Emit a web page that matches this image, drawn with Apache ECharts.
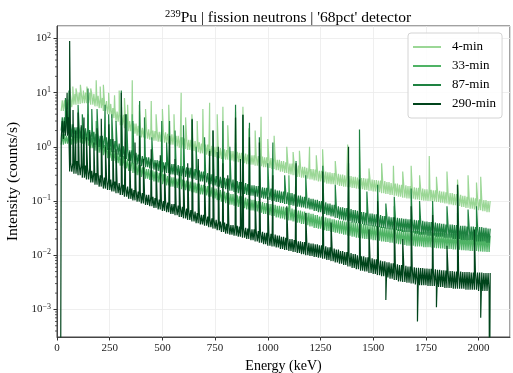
<!DOCTYPE html>
<html><head><meta charset="utf-8">
<script src="https://cdn.jsdelivr.net/npm/echarts@6/dist/echarts.min.js"></script>
<style>html,body{margin:0;padding:0;background:#fff}#c{width:513px;height:373px}</style>
</head><body><div id="c"></div>
<script>
// ---- data ----
const seriesNames = ['4-min', '33-min', '87-min', '290-min'];
const xTickLabels = [0, 250, 500, 750, 1000, 1250, 1500, 1750, 2000];
const gridStartKeV = 20, gridStepKeV = 20;   // lower / upper edges of each noisy band, read every 20 keV

const low4 = [4.6,5.0,5.4,6.0,6.2,6.4,6.4,6.0,5.6,5.2,4.6,4.0,3.4,2.9,2.5,2.2,1.95,1.75,1.6,1.5,1.42,1.35,1.3,1.25,1.2,1.15,1.1,1.02,0.96,0.92,0.88,0.84,0.8,0.76,0.72,0.68,0.65,0.62,0.6,0.58,0.56,0.54,0.52,0.5,0.48,0.47,0.45,0.44,0.42,0.41,0.39,0.37,0.35,0.33,0.31,0.3,0.28,0.27,0.26,0.25,0.24,0.23,0.22,0.21,0.205,0.2,0.19,0.185,0.18,0.175,0.17,0.165,0.16,0.155,0.15,0.145,0.14,0.135,0.13,0.125,0.12,0.115,0.112,0.11,0.107,0.104,0.102,0.1,0.098,0.096,0.093,0.09,0.087,0.084,0.081,0.078,0.075,0.072,0.07,0.068,0.065,0.062];
const high4 = [7.2,7.5,8.5,9.5,10,10,10,9.5,8.8,8.0,7.0,6.2,5.2,4.5,3.9,3.4,3.0,2.7,2.45,2.25,2.1,2.0,1.95,1.9,1.85,1.75,1.7,1.6,1.5,1.42,1.35,1.28,1.22,1.15,1.1,1.05,1.0,0.95,0.9,0.87,0.84,0.81,0.78,0.75,0.72,0.7,0.68,0.66,0.64,0.62,0.6,0.58,0.55,0.52,0.49,0.47,0.45,0.43,0.41,0.39,0.38,0.36,0.35,0.34,0.33,0.32,0.31,0.3,0.29,0.28,0.27,0.265,0.26,0.25,0.245,0.24,0.235,0.225,0.215,0.21,0.2,0.195,0.19,0.18,0.175,0.17,0.165,0.162,0.158,0.155,0.15,0.145,0.14,0.135,0.13,0.125,0.12,0.116,0.112,0.108,0.104,0.1];
const low33 = [1.1,1.15,1.1,1.15,1.2,1.15,1.05,0.95,0.85,0.78,0.7,0.62,0.55,0.5,0.45,0.4,0.36,0.33,0.3,0.28,0.26,0.245,0.23,0.22,0.205,0.195,0.185,0.175,0.165,0.158,0.152,0.145,0.14,0.133,0.127,0.12,0.112,0.104,0.097,0.091,0.086,0.082,0.078,0.074,0.07,0.067,0.064,0.061,0.058,0.055,0.053,0.05,0.048,0.046,0.044,0.042,0.04,0.038,0.036,0.034,0.032,0.031,0.029,0.028,0.027,0.026,0.025,0.024,0.023,0.022,0.021,0.0205,0.02,0.0195,0.019,0.0185,0.018,0.0175,0.017,0.0165,0.016,0.0155,0.015,0.015,0.0145,0.0145,0.014,0.014,0.0138,0.0135,0.0133,0.013,0.013,0.0128,0.0126,0.0124,0.0122,0.012,0.012,0.0118,0.0116,0.0115];
const high33 = [1.7,1.6,1.6,1.7,1.8,1.75,1.6,1.45,1.3,1.2,1.08,0.96,0.85,0.76,0.68,0.6,0.54,0.5,0.46,0.42,0.39,0.37,0.35,0.33,0.31,0.29,0.275,0.26,0.25,0.24,0.23,0.22,0.21,0.2,0.19,0.18,0.17,0.16,0.15,0.142,0.135,0.128,0.122,0.116,0.11,0.105,0.1,0.096,0.092,0.088,0.085,0.082,0.079,0.076,0.073,0.07,0.067,0.064,0.061,0.058,0.055,0.052,0.05,0.048,0.046,0.044,0.043,0.042,0.041,0.04,0.039,0.038,0.037,0.036,0.035,0.034,0.033,0.032,0.031,0.03,0.03,0.029,0.029,0.028,0.028,0.027,0.027,0.027,0.026,0.026,0.026,0.025,0.025,0.025,0.025,0.024,0.024,0.024,0.024,0.024,0.023,0.023];
const low87 = [2.0,1.8,1.5,1.45,1.45,1.4,1.3,1.2,1.1,1.0,0.95,0.88,0.8,0.72,0.65,0.6,0.55,0.5,0.47,0.44,0.42,0.4,0.38,0.36,0.34,0.33,0.31,0.3,0.29,0.28,0.27,0.26,0.245,0.23,0.22,0.205,0.195,0.185,0.175,0.165,0.155,0.148,0.14,0.135,0.13,0.125,0.12,0.115,0.11,0.105,0.1,0.096,0.092,0.088,0.085,0.082,0.079,0.076,0.073,0.07,0.066,0.062,0.058,0.055,0.052,0.049,0.046,0.044,0.042,0.04,0.039,0.038,0.036,0.035,0.034,0.033,0.032,0.031,0.03,0.029,0.028,0.027,0.027,0.026,0.025,0.024,0.024,0.023,0.023,0.022,0.022,0.021,0.021,0.02,0.02,0.019,0.019,0.019,0.018,0.018,0.018,0.017];
const high87 = [3.5,3.2,2.6,2.3,2.3,2.2,2.05,1.9,1.75,1.6,1.5,1.4,1.28,1.15,1.02,0.94,0.86,0.78,0.72,0.68,0.64,0.6,0.57,0.55,0.52,0.5,0.48,0.46,0.44,0.42,0.41,0.39,0.37,0.35,0.33,0.31,0.29,0.28,0.27,0.26,0.25,0.235,0.225,0.215,0.205,0.195,0.19,0.18,0.175,0.17,0.163,0.157,0.15,0.145,0.14,0.133,0.127,0.12,0.115,0.11,0.105,0.1,0.095,0.09,0.085,0.08,0.077,0.074,0.071,0.068,0.066,0.063,0.061,0.059,0.057,0.055,0.053,0.052,0.05,0.049,0.048,0.047,0.046,0.045,0.044,0.043,0.042,0.041,0.04,0.039,0.038,0.037,0.037,0.036,0.035,0.035,0.034,0.034,0.033,0.033,0.032,0.031];
const low290 = [1.4,1.6,0.35,0.32,0.3,0.27,0.25,0.22,0.2,0.185,0.17,0.16,0.15,0.14,0.13,0.12,0.11,0.103,0.097,0.09,0.085,0.08,0.075,0.07,0.066,0.062,0.058,0.055,0.051,0.048,0.045,0.042,0.039,0.037,0.035,0.033,0.031,0.029,0.027,0.025,0.024,0.023,0.022,0.021,0.02,0.019,0.018,0.017,0.016,0.015,0.0145,0.014,0.013,0.0125,0.012,0.0115,0.011,0.0105,0.01,0.0097,0.0093,0.009,0.0086,0.0082,0.0078,0.0074,0.007,0.0066,0.0062,0.0058,0.0055,0.0052,0.005,0.0047,0.0045,0.0043,0.0041,0.0039,0.0037,0.0035,0.0033,0.0032,0.0031,0.003,0.0029,0.0028,0.0028,0.0027,0.0027,0.0026,0.0026,0.0025,0.0025,0.0024,0.0024,0.0024,0.0023,0.0023,0.0023,0.0022,0.0022,0.0022];
const high290 = [3.0,3.5,0.5,0.55,0.5,0.45,0.4,0.36,0.33,0.3,0.27,0.25,0.23,0.215,0.2,0.185,0.17,0.16,0.15,0.14,0.13,0.12,0.113,0.106,0.1,0.094,0.088,0.083,0.078,0.073,0.068,0.064,0.06,0.056,0.052,0.048,0.045,0.042,0.04,0.038,0.036,0.035,0.034,0.032,0.031,0.03,0.028,0.027,0.026,0.025,0.024,0.023,0.022,0.021,0.02,0.019,0.018,0.0175,0.017,0.0165,0.016,0.0153,0.0147,0.014,0.0133,0.0127,0.012,0.0115,0.011,0.0105,0.01,0.0096,0.0092,0.0088,0.0084,0.008,0.0077,0.0074,0.0071,0.0068,0.0066,0.0064,0.0062,0.006,0.0059,0.0058,0.0057,0.0056,0.0055,0.0054,0.0053,0.0052,0.0051,0.005,0.005,0.0049,0.0049,0.0048,0.0048,0.0048,0.0047,0.0047];

// spikes / single-channel points [keV, counts/s]
const peaks4 = [[60,12],[75,13],[90,12],[111,14],[125,11],[142,13],[160,12],[186,17],[205,13],[220,14],[245,10],[273,9],[295,11],[320,8],[335,6],[357,17],[390,6],[420,5],[447,7],[470,4],[500,5],[530,6],[555,4],[589,10],[610,3.5],[640,4],[665,3],[692,5],[724,6.5],[760,4],[787,5.5],[810,2.5],[847,4.5],[882,5.5],[910,2.2],[940,2],[968,3.6],[1000,1.4],[1030,1.6],[1090,1.0],[1120,0.8],[1150,0.85],[1198,1.0],[1230,0.7],[1260,0.9],[1320,0.55],[1379,1.1],[1435,0.9],[1480,0.4],[1540,0.5],[1596,0.45],[1640,0.35],[1680,0.45],[1720,0.3],[1766,0.68],[1800,0.28],[1850,0.35],[1900,0.25],[1950,0.3],[1990,0.22],[2010,0.28]];
const peaks33 = [[60,3],[147,4],[186,3],[305,3],[357,4],[497,1.2],[589,1.5],[724,0.9],[847,1.2],[1100,0.3],[1435,0.3],[1600,0.08],[1900,0.06]];
const peaks87 = [[40,8],[57,11],[100,6],[120,4],[147,12],[165,5],[190,5],[228,6],[245,4],[260,4],[280,3],[305,11],[330,4],[360,3],[392,7],[415,3.5],[450,1.5],[497,3],[520,1.2],[534,3],[560,2],[600,2.5],[641,3.3],[660,1.0],[700,1.5],[740,2.0],[760,0.8],[787,3],[820,1.0],[847,6],[882,3.9],[913,2.8],[960,1.5],[1000,0.5],[1024,1.2],[1080,0.3],[1134,0.55],[1180,0.3],[1261,0.45],[1320,0.2],[1383,0.5],[1435,2.1],[1470,0.15],[1521,0.2],[1560,0.09],[1600,0.12],[1680,0.17],[1720,0.1],[1782,0.1],[1850,0.08],[1900,0.2],[1950,0.07],[1990,0.08]];
const peaks290 = [[17,1e-5],[48,10],[60,90],[76,4.8],[88,2],[100,4.3],[115,2.5],[128,3.5],[140,1.5],[155,1.9],[175,1.2],[190,2.2],[210,3.3],[230,1.0],[246,2.6],[265,1.4],[280,0.9],[305,10],[324,4],[345,0.8],[370,1.2],[392,1.6],[410,0.6],[447,0.9],[470,0.5],[490,0.7],[510,0.45],[534,1.6],[560,0.6],[580,0.35],[600,0.4],[620,0.5],[641,3.2],[670,0.6],[700,0.3],[724,0.84],[740,2.0],[765,1.0],[787,0.5],[810,0.3],[847,3.5],[870,0.6],[882,3.9],[913,1.5],[940,0.15],[960,1.2],[1000,0.12],[1024,0.3],[1090,0.08],[1134,0.5],[1180,0.06],[1261,0.35],[1300,0.04],[1383,1.0],[1435,0.25],[1480,0.03],[1521,0.1],[1560,0.0015],[1600,0.05],[1640,0.02],[1680,0.08],[1710,0.0006],[1782,0.055],[1800,0.0011],[1850,0.015],[1900,0.2],[1980,0.03],[2010,0.0007],[2052,1e-5]];

const minorTickValues = [4e-4,5e-4,6e-4,7e-4,8e-4,9e-4,2e-3,3e-3,4e-3,5e-3,6e-3,7e-3,8e-3,9e-3,2e-2,3e-2,4e-2,5e-2,6e-2,7e-2,8e-2,9e-2,0.2,0.3,0.4,0.5,0.6,0.7,0.8,0.9,2,3,4,5,6,7,8,9,20,30,40,50,60,70,80,90];
const colors = ['#9bd796', '#4fb365', '#1e8241', '#00441b'];

// each 20-keV cell of a band is drawn as the channel-to-channel swing between its read lower and upper edge
function build(low, high, extra) {
  const pts = [];
  for (let i = 0; i < low.length; i++) {
    const e = gridStartKeV + i * gridStepKeV;
    pts.push([e, low[i]], [e + 5, high[i]], [e + 10, low[i]], [e + 15, high[i]]);
  }
  extra.forEach(p => pts.push(p));
  pts.sort((a, b) => a[0] - b[0]);
  return pts;
}
const dataSets = [build(low4, high4, peaks4), build(low33, high33, peaks33), build(low87, high87, peaks87), build(low290, high290, peaks290)];

const serif = 'Liberation Serif';
const chart = echarts.init(document.getElementById('c'), null, {renderer: 'canvas'});
const series = seriesNames.map((n, i) => ({
  name: n, type: 'line', data: dataSets[i], showSymbol: false, symbol: 'none',
  sampling: 'none', animation: false, z: 2 + i,
  lineStyle: {width: 1.2, color: colors[i], join: 'bevel'}, itemStyle: {color: colors[i]}
}));
series.push({
  type: 'custom', data: minorTickValues.map(v => [0, v]), clip: false, silent: true, z: 20, animation: false,
  renderItem(params, api) {
    const p = api.coord([api.value(0), api.value(1)]);
    return {type: 'line', shape: {x1: p[0] - 2, y1: p[1], x2: p[0], y2: p[1]}, style: {stroke: '#333', lineWidth: 0.8}};
  }
});

chart.setOption({
  animation: false,
  backgroundColor: '#fff',
  title: {
    text: '{s|239}Pu | fission neutrons | \'68pct\' detector',
    left: 283, top: 4, textAlign: 'center',
    textStyle: {fontFamily: serif, fontSize: 15.5, fontWeight: 'normal', color: '#000',
      rich: {s: {fontFamily: serif, fontSize: 10.5, color: '#000', padding: [0, 0, 7, 0]}}}
  },
  grid: {left: 57, right: 3, top: 26, bottom: 36, containLabel: false, outerBoundsMode: 'none',
    show: true, borderColor: '#444', borderWidth: 1, backgroundColor: 'transparent'},
  legend: {
    data: seriesNames, orient: 'vertical', left: 408, top: 33, padding: [6, 6, 6, 5],
    itemWidth: 28, itemHeight: 2, itemGap: 3, icon: 'rect',
    backgroundColor: 'rgba(255,255,255,0.85)', borderColor: '#d4d4d4', borderWidth: 1, borderRadius: 3,
    textStyle: {fontFamily: serif, fontSize: 13, color: '#000', lineHeight: 16, padding: [0, 0, 0, 6]}
  },
  xAxis: {
    type: 'value', min: 0, max: 2149, interval: 250,
    name: 'Energy (keV)', nameLocation: 'middle', nameGap: 17,
    nameTextStyle: {fontFamily: serif, fontSize: 14, color: '#000'},
    axisLine: {show: true, lineStyle: {color: '#444'}},
    axisTick: {show: true, length: 3.5, lineStyle: {color: '#333'}},
    axisLabel: {fontFamily: serif, fontSize: 11, color: '#222', margin: 6, showMaxLabel: false,
      formatter: v => xTickLabels.indexOf(v) >= 0 ? String(v) : ''},
    splitLine: {show: true, lineStyle: {color: '#ebebeb', width: 0.8}}
  },
  yAxis: {
    type: 'log', min: 3.1e-4, max: 170, logBase: 10,
    name: 'Intensity (counts/s)', nameLocation: 'middle', nameGap: 30, nameRotate: 90,
    nameTextStyle: {fontFamily: serif, fontSize: 15.5, color: '#000'},
    axisLine: {show: true, lineStyle: {color: '#444'}},
    axisTick: {show: true, length: 3.5, lineStyle: {color: '#333'}},
    axisLabel: {fontFamily: serif, fontSize: 11, color: '#222', margin: 6, showMinLabel: false, showMaxLabel: false,
      formatter: v => { const e = Math.round(Math.log10(v)); if (Math.abs(Math.log10(v) - e) > 1e-6) return ''; return '10{s|' + (e < 0 ? '\u2212' + (-e) : e) + '}'; },
      rich: {s: {fontFamily: serif, fontSize: 8, color: '#222', padding: [0, 0, 6, 0]}}},
    splitLine: {show: true, lineStyle: {color: '#ebebeb', width: 0.8}}
  },
  series: series
});
</script>
</body></html>
